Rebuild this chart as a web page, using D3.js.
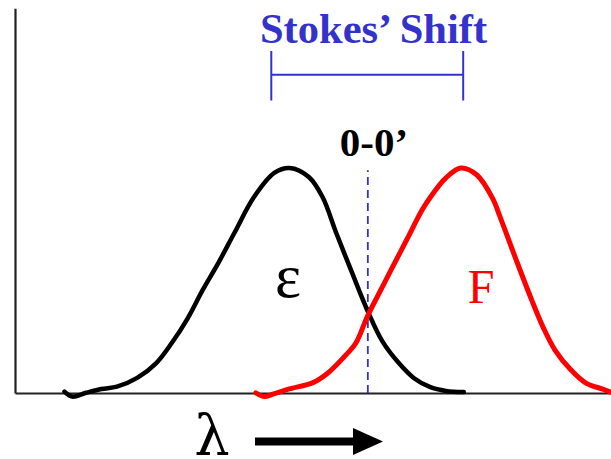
<!DOCTYPE html>
<html>
<head>
<meta charset="utf-8">
<script src="https://cdn.jsdelivr.net/npm/d3@7"></script>
<style>
  body { margin: 0; background: #fff; }
  svg { display: block; }
</style>
</head>
<body>
<svg id="chart"></svg>
<script>
// Absorption (epsilon) spectrum (arbitrary wavelength units, normalized intensity)
const absX = [8.3, 9.6, 11.9, 14.5, 17.1, 20.5, 23.7, 26.3, 29.0, 31.5, 34.2, 36.8, 40.1, 43.5, 46.1, 49.3, 51.6, 53.9, 56.5, 59.1, 61.7, 64.4, 66.9, 69.6, 72.3, 75.3];
const absY = [0.006, -0.016, 0.001, 0.018, 0.028, 0.067, 0.133, 0.222, 0.333, 0.458, 0.582, 0.711, 0.871, 0.978, 1.0, 0.96, 0.871, 0.711, 0.538, 0.369, 0.227, 0.133, 0.067, 0.027, 0.009, 0.004];

// Fluorescence (F) spectrum
const fluX = [40.4, 41.8, 43.4, 46.0, 50.0, 52.5, 55.2, 57.2, 59.1, 61.1, 63.1, 65.7, 68.3, 69.6, 72.3, 74.8, 77.5, 80.1, 81.4, 84.1, 86.7, 88.6, 90.6, 93.3, 95.8, 98.5, 100];
const fluY = [0.001, -0.016, -0.004, 0.018, 0.046, 0.089, 0.16, 0.222, 0.339, 0.444, 0.547, 0.68, 0.813, 0.867, 0.956, 1.0, 0.969, 0.867, 0.782, 0.591, 0.413, 0.293, 0.191, 0.102, 0.044, 0.018, 0.004];

// 0-0' transition and Stokes' shift bracket ends
const zeroZero = 59.2;
const shiftEnds = [43.0, 75.2];
const yTop = 1.71; // top of the intensity axis

const width = 611, height = 459;
const svg = d3.select("#chart").attr("width", width).attr("height", height);

const x = d3.scaleLinear().domain([0, 100]).range([15, 611]);
const y = d3.scaleLinear().domain([0, 1]).range([393, 168]);

// Axes: bare lines, no ticks
svg.append("g")
  .attr("transform", `translate(0,${y(0)})`)
  .call(d3.axisBottom(x).tickValues([]).tickSizeOuter(0))
  .call(g => g.select(".domain").attr("stroke", "#222").attr("stroke-width", 2.2));

svg.append("g")
  .attr("transform", `translate(${x(0)},0)`)
  .call(d3.axisLeft(y.copy().domain([0, yTop]).range([y(0), y(yTop)])).tickValues([]).tickSizeOuter(0))
  .call(g => g.select(".domain").attr("stroke", "#222").attr("stroke-width", 2.2));

const line = d3.line()
  .x(d => x(d[0]))
  .y(d => y(d[1]))
  .curve(d3.curveCatmullRom.alpha(0.5));

// dashed 0-0' line
svg.append("line")
  .attr("x1", x(zeroZero)).attr("x2", x(zeroZero))
  .attr("y1", y(0)).attr("y2", y(0.99))
  .attr("stroke", "#3333cc")
  .attr("stroke-width", 1.8)
  .attr("stroke-dasharray", "8,5");

svg.append("path")
  .datum(d3.zip(absX, absY))
  .attr("d", line)
  .attr("fill", "none")
  .attr("stroke", "#000")
  .attr("stroke-width", 4.5)
  .attr("stroke-linecap", "round");

svg.append("path")
  .datum(d3.zip(fluX, fluY))
  .attr("d", line)
  .attr("fill", "none")
  .attr("stroke", "#ff0000")
  .attr("stroke-width", 5)
  .attr("stroke-linecap", "round");

// Stokes' shift bracket
const bracketY = y(1.415);
svg.append("line")
  .attr("x1", x(shiftEnds[0])).attr("x2", x(shiftEnds[1]))
  .attr("y1", bracketY).attr("y2", bracketY)
  .attr("stroke", "#3333cc").attr("stroke-width", 2);
svg.selectAll(".tick-end")
  .data(shiftEnds)
  .enter()
  .append("line")
  .attr("x1", d => x(d)).attr("x2", d => x(d))
  .attr("y1", y(1.52)).attr("y2", y(1.3))
  .attr("stroke", "#3333cc").attr("stroke-width", 2);

const serif = "'Liberation Serif', 'Times New Roman', serif";

svg.append("text")
  .attr("x", 373.5).attr("y", 43)
  .attr("text-anchor", "middle")
  .style("font-family", serif).style("font-weight", "bold").style("font-size", "42.5px")
  .attr("fill", "#3333cc")
  .text("Stokes\u2019 Shift");

svg.append("text")
  .attr("x", 374).attr("y", 156)
  .attr("text-anchor", "middle")
  .style("font-family", serif).style("font-weight", "bold").style("font-size", "41px")
  .attr("fill", "#000")
  .text("0-0\u2019");

svg.append("text")
  .attr("x", 288).attr("y", 297)
  .attr("text-anchor", "middle")
  .style("font-family", serif).style("font-size", "62px")
  .attr("fill", "#000")
  .text("\u03b5");

svg.append("text")
  .attr("x", 481).attr("y", 303)
  .attr("text-anchor", "middle")
  .style("font-family", serif).style("font-size", "48px")
  .attr("fill", "#ff0000")
  .text("F");

svg.append("text")
  .attr("x", 212).attr("y", 455)
  .attr("text-anchor", "middle")
  .style("font-family", "'DejaVu Serif', serif").style("font-size", "56px")
  .attr("fill", "#000")
  .text("\u03bb");

// wavelength arrow
svg.append("line")
  .attr("x1", 255).attr("x2", 356)
  .attr("y1", 441.5).attr("y2", 441.5)
  .attr("stroke", "#000").attr("stroke-width", 8);
svg.append("path")
  .attr("d", "M353,428 L383,441.5 L353,455 Z")
  .attr("fill", "#000");
</script>
</body>
</html>
